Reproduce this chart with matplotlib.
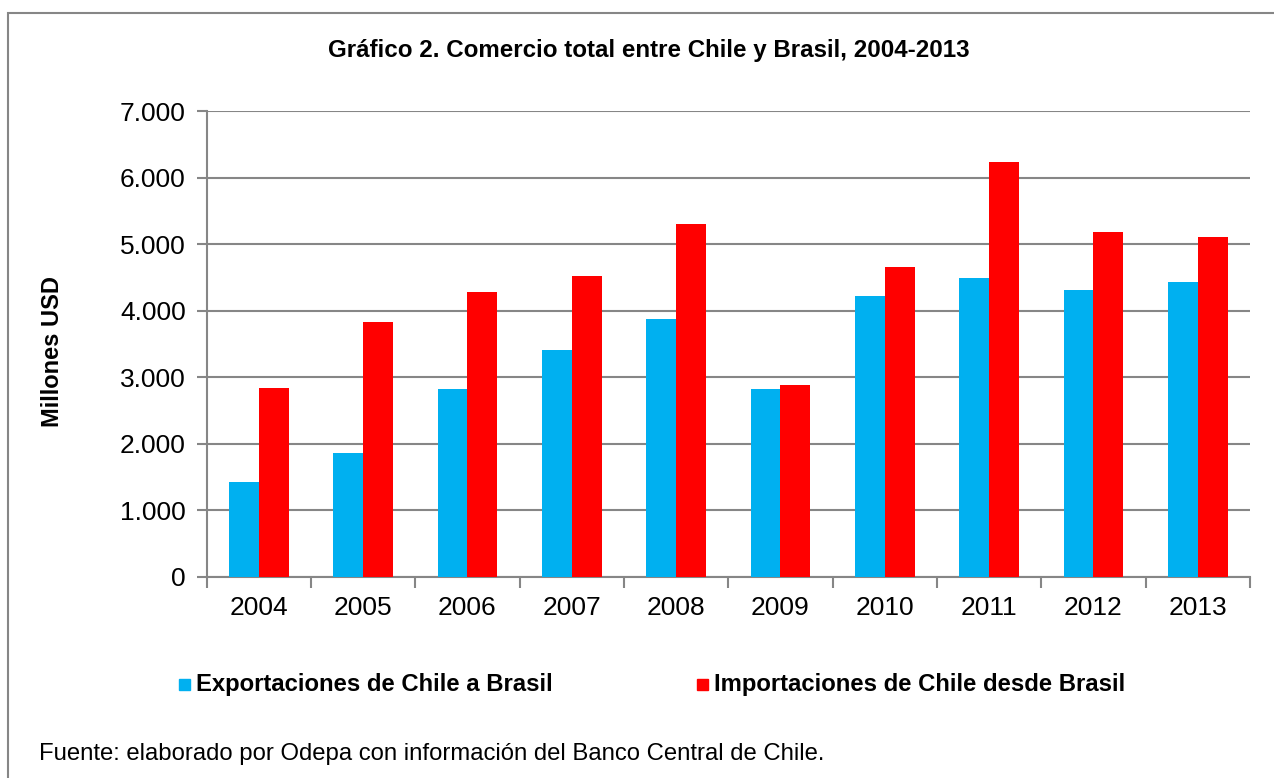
import matplotlib
matplotlib.use("Agg")
import matplotlib.pyplot as plt
import numpy as np
from matplotlib.patches import Rectangle
from matplotlib.ticker import FuncFormatter

plt.rcParams['font.family'] = ['Liberation Sans', 'DejaVu Sans']

# datos (millones USD)
anios = ['2004', '2005', '2006', '2007', '2008', '2009', '2010', '2011', '2012', '2013']
exportaciones = [1430, 1860, 2820, 3410, 3870, 2825, 4220, 4495, 4310, 4430]
importaciones = [2840, 3830, 4280, 4530, 5305, 2880, 4660, 6230, 5190, 5115]
yticks = [0, 1000, 2000, 3000, 4000, 5000, 6000, 7000]

azul = '#00B0F0'
rojo = '#FF0000'
gris = '#868686'

fig = plt.figure(figsize=(12.74, 7.78), dpi=100)
W, H = 1274, 778

# marco exterior
fig.patches.append(Rectangle((8 / W, -0.1), 1.2, (H - 13) / H + 0.1, transform=fig.transFigure,
                             fill=False, ec=gris, lw=1.5))

ax = fig.add_axes([206.5 / W, (H - 576.7) / H, (1250 - 206.5) / W, (576.7 - 111.3) / H])

x = np.arange(len(anios))
w = 0.286
ax.bar(x - w / 2, exportaciones, w, color=azul, zorder=3)
ax.bar(x + w / 2, importaciones, w, color=rojo, zorder=3)

ax.set_xlim(-0.5, len(anios) - 0.5)
ax.set_ylim(0, 7000)
ax.set_yticks(yticks)
ax.yaxis.set_major_formatter(FuncFormatter(lambda v, p: '{:,.0f}'.format(v).replace(',', '.')))
ax.set_xticks(x)
ax.set_xticklabels(anios)
ax.set_xticks(np.arange(-0.5, len(anios), 1), minor=True)
ax.tick_params(axis='x', which='major', length=0, labelsize=19, pad=14)
ax.tick_params(axis='x', which='minor', length=8, width=1.5, color=gris, direction='out')
ax.tick_params(axis='y', length=7, width=1.5, color=gris, labelsize=19, pad=8)

ax.grid(axis='y', color=gris, lw=1.5, zorder=0)
for s in ['top', 'right']:
    ax.spines[s].set_visible(False)
for s in ['left', 'bottom']:
    ax.spines[s].set_color(gris)
    ax.spines[s].set_linewidth(1.5)

# eje y
fig.text(53 / W, 1 - 351 / H, 'Millones USD', rotation=90, fontsize=17, fontweight='bold',
         ha='center', va='center')

fig.text(649 / W, 1 - 50 / H, 'Gráfico 2. Comercio total entre Chile y Brasil, 2004-2013',
         fontsize=17.4, fontweight='bold', ha='center', va='center')

# leyenda
for xs, col, txt in [(179, azul, 'Exportaciones de Chile a Brasil'),
                     (697, rojo, 'Importaciones de Chile desde Brasil')]:
    fig.patches.append(Rectangle((xs / W, 1 - 690 / H), 11 / W, 11 / H,
                                 transform=fig.transFigure, color=col))
    fig.text((xs + 17) / W, 1 - 684 / H, txt, fontsize=17.2, fontweight='bold',
             ha='left', va='center')

fig.text(39 / W, 1 - 754 / H, 'Fuente: elaborado por Odepa con información del Banco Central de Chile.',
         fontsize=17.2, ha='left', va='center')

fig.savefig('out.png', dpi=100)
